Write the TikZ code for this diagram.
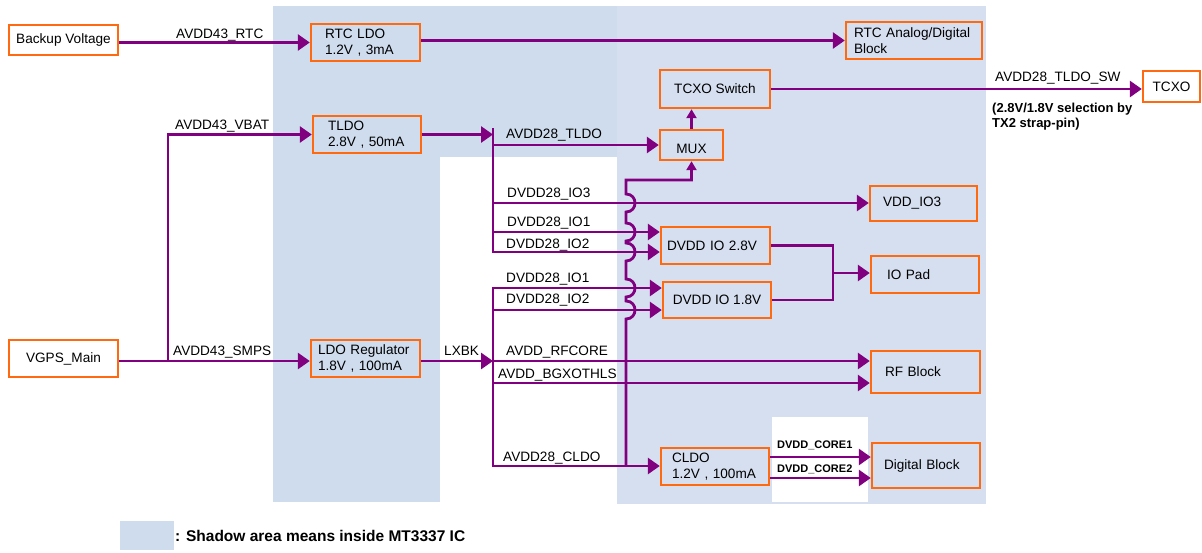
\documentclass[tikz,border=0pt]{standalone}
\usepackage{fontspec}
\setmainfont{Liberation Sans}
\usetikzlibrary{arrows.meta,calc}
\definecolor{orng}{RGB}{255,106,16}
\definecolor{purp}{RGB}{128,0,128}
\definecolor{shadeL}{RGB}{206,220,237}
\definecolor{shadeR}{RGB}{214,223,239}
\begin{document}
\begin{tikzpicture}[x=1pt,y=-1pt,
  every node/.style={font=\fontsize{13.6}{15.5}\selectfont},
  box/.style={draw=orng, line width=2.4pt, inner sep=0pt, minimum height=37pt, align=center},
  lbox/.style 2 args={box, align=left, inner xsep=#1, text width=#2},
  wire/.style={draw=purp, line width=2.8pt},
  arr/.style={wire, -{Triangle[length=12pt,width=16pt]}},
  sarr/.style={wire, -{Triangle[length=9pt,width=10pt]}},
  lbl/.style={anchor=base west, inner sep=0pt},
  boldlbl/.style={lbl, font=\bfseries\fontsize{11}{13}\selectfont}
]
\useasboundingbox (0,0) rectangle (1202,552);
\fill[white] (0,0) rectangle (1202,552);
% shadow areas
\fill[shadeL] (273,6) rectangle (440,502);
\fill[shadeL] (440,6) rectangle (617,157);
\fill[shadeR] (617,6) rectangle (986,504);
\fill[white] (772,417) rectangle (868,502);

% boxes
\node[box, minimum width=109pt, minimum height=30pt, fill=white] (bv) at (63.5,40) {Backup Voltage};
\node[lbox={14pt}{81pt}] (rtc) at (365.5,42.5) {RTC LDO\\1.2V , 3mA};
\node[lbox={15pt}{78pt}] (tldo) at (367,134.5) {TLDO\\2.8V , 50mA};
\node[lbox={7pt}{95pt}] (ldo) at (365.5,358.5) {LDO Regulator\\1.8V , 100mA};
\node[lbox={8pt}{120pt}] (rtcb) at (914,40.5) {RTC Analog/Digital\\Block};
\node[box, minimum width=110pt, minimum height=38pt] (sw) at (715,89) {TCXO Switch};
\node[box, minimum width=63pt, minimum height=30pt, text height=17.8pt, text depth=0pt] (mux) at (691.5,145) {MUX};
\node[box, minimum width=57pt, minimum height=31pt, fill=white] (tcxo) at (1171.5,86.5) {TCXO};
\node[lbox={13pt}{81pt}, minimum height=35pt] (io3) at (923.5,203.5) {VDD\_IO3};
\node[lbox={16pt}{76pt}] (iopad) at (925,274.5) {IO Pad};
\node[lbox={6pt}{97pt}] (io28) at (715.5,245.5) {DVDD IO 2.8V};
\node[box, minimum width=108pt, minimum height=36pt] (io18) at (717,300) {DVDD IO 1.8V};
\node[box, minimum width=109pt, fill=white] (vgps) at (63.5,358.5) {VGPS\_Main};
\node[lbox={14pt}{81pt}, minimum height=42pt] (rf) at (925.5,372) {RF Block};
\node[lbox={11pt}{86pt}] (cldo) at (715,466.5) {CLDO\\1.2V , 100mA};
\node[lbox={12pt}{84pt}, minimum height=45pt] (dig) at (926,465.5) {Digital Block};

% junction coordinates
\coordinate (j1) at (168,361);
\coordinate (vt) at (493,128);
\coordinate (vtb) at (493,253);
\coordinate (vb) at (493,287);
\coordinate (vbb) at (493,467);
\coordinate (lx) at (493,361);
\coordinate (b3) at (493,203);
\coordinate (b1) at (493,232);
\coordinate (b2) at (493,252);
\coordinate (c1) at (493,288);
\coordinate (c2) at (493,310);
\coordinate (r2) at (493,383);
\coordinate (cl) at (493,466);
\coordinate (pj) at (833,273);
\coordinate (k1) at (800,457);
\coordinate (k2) at (800,478);
\coordinate (mx) at (626,466);
\coordinate (mt) at (626,180);

% connectors
\draw[arr] (bv.east |- rtc.west) -- (rtc.west);
\draw[arr] (rtc.east |- rtcb.west) -- (rtcb.west);
\draw[arr] (vgps.east |- j1) -- (j1 -| ldo.west);
\draw[arr] (j1) |- (tldo.west);
\draw[arr] (ldo.east |- lx) -- (lx);
\draw[arr] (tldo.east) -- (tldo.east -| vt);
\draw[wire] (vt) -- (vtb);
\draw[wire] (vb) -- (vbb);
\draw[arr] (vt |- mux.west) -- (mux.west);
\draw[arr] (b3) -- (b3 -| io3.west);
\draw[arr] (b1) -- (b1 -| io28.west);
\draw[arr] (b2) -- (b2 -| io28.west);
\draw[arr] (c1) -- (c1 -| io18.west);
\draw[arr] (c2) -- (c2 -| io18.west);
\draw[arr] (lx) -- (lx -| rf.west);
\draw[arr] (r2) -- (r2 -| rf.west);
\draw[arr] (cl) -- (cl -| cldo.west);
\draw[sarr] (mx) -- (626,319) .. controls (638,319) and (638,301) .. (626,301)
  -- (626,297) .. controls (638,297) and (638,279) .. (626,279)
  -- (626,261) .. controls (638,261) and (638,243) .. (626,243)
  -- (626,241) .. controls (638,241) and (638,223) .. (626,223)
  -- (626,212) .. controls (638,212) and (638,194) .. (626,194)
  -- (mt) -| (mux.south);
\draw[sarr] (mux.north) -- (mux.north |- sw.south);
\draw[arr] (sw.east) -- (sw.east -| tcxo.west);
\draw[wire] (io28.east) -| (pj) |- (io18.east);
\draw[arr] (pj) -- (pj -| iopad.west);
\draw[arr] (cldo.east |- k1) -- (k1 -| dig.west);
\draw[arr] (cldo.east |- k2) -- (k2 -| dig.west);

% labels
\node[lbl] (l1) at (176,38) {AVDD43\_RTC};
\node[lbl] (l2) at (175,129) {AVDD43\_VBAT};
\node[lbl] (l3) at (173,355) {AVDD43\_SMPS};
\node[lbl] (l4) at (444,355) {LXBK};
\node[lbl] (l5) at (506,138) {AVDD28\_TLDO};
\node[lbl] (l6) at (507,197) {DVDD28\_IO3};
\node[lbl] (l7) at (507,226) {DVDD28\_IO1};
\node[lbl] (l8) at (506,248) {DVDD28\_IO2};
\node[lbl] (l9) at (506,282) {DVDD28\_IO1};
\node[lbl] (l10) at (506,303) {DVDD28\_IO2};
\node[lbl] (l11) at (506,355) {AVDD\_RFCORE};
\node[lbl] (l12) at (498,378) {AVDD\_BGXOTHLS};
\node[lbl] (l13) at (503,461) {AVDD28\_CLDO};
\node[boldlbl] (l14) at (777,448) {DVDD\_CORE1};
\node[boldlbl] (l15) at (777,472) {DVDD\_CORE2};
\node[lbl] (l16) at (995,81) {AVDD28\_TLDO\_SW};
\node[anchor=north west, inner sep=0pt, align=left, font=\bfseries\fontsize{13}{15}\selectfont] (l17) at (992,103) {(2.8V/1.8V selection by\\TX2 strap-pin)};

% legend
\fill[shadeL] (120,521) rectangle (174,550);
\node[lbl, font=\bfseries\fontsize{15.5}{17}\selectfont] (leg) at (175,541.5) {: Shadow area means inside MT3337 IC};
\end{tikzpicture}
\end{document}
